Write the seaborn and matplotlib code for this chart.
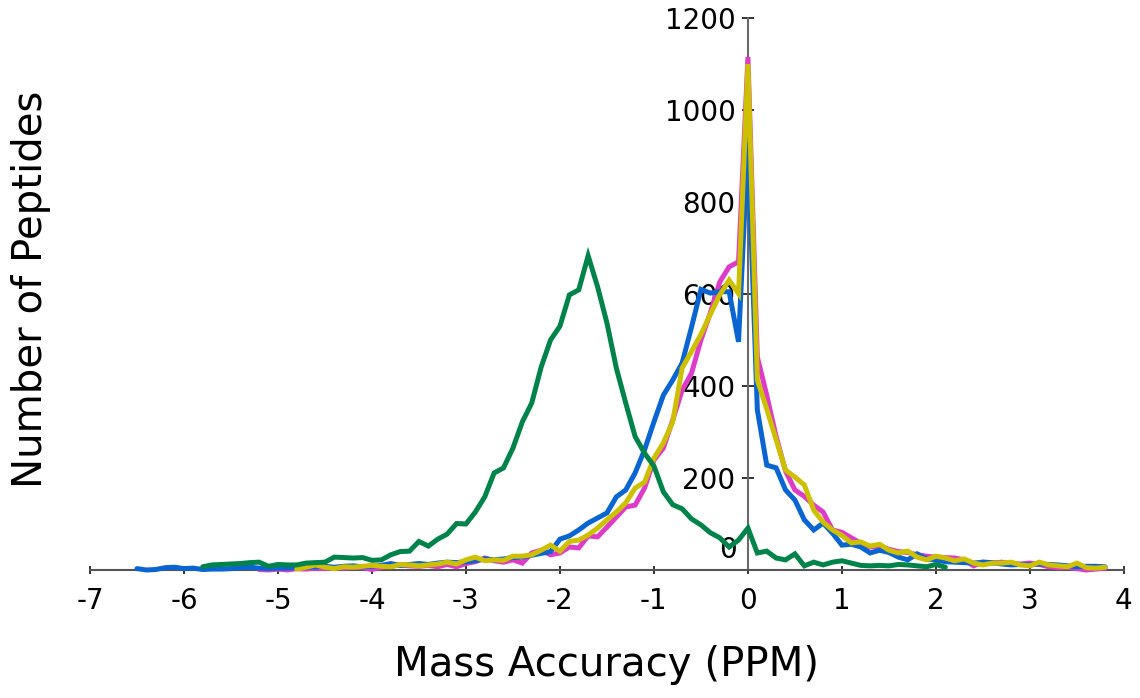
import numpy as np
import pandas as pd
import seaborn as sns
import matplotlib.pyplot as plt

# peptide counts per 0.1 PPM bin, one list per run; *_start is the first bin
green_start = -5.8
green_counts = [
    7, 11, 12, 13, 14, 16, 17, 8, 12, 11,
    11, 15, 16, 17, 28, 27, 26, 27, 21, 22,
    33, 40, 41, 62, 52, 67, 78, 101, 100, 126,
    159, 211, 222, 265, 322, 363, 441, 500, 530, 598,
    609, 683, 616, 537, 439, 363, 290, 254, 226, 170,
    142, 133, 111, 98, 81, 70, 50, 65, 91, 37,
    41, 26, 22, 35, 9, 17, 11, 17, 20, 15,
    10, 9, 10, 9, 12, 11, 9, 7, 12, 6,
]

blue_start = -6.5
blue_counts = [
    3, 0, 1, 5, 6, 3, 4, 1, 2, 2,
    3, 5, 6, 4, 3, 4, 4, 5, 6, 7,
    8, 6, 8, 9, 7, 8, 10, 14, 10, 12,
    14, 12, 15, 17, 16, 18, 20, 24, 22, 24,
    27, 28, 32, 36, 40, 67, 74, 87, 102, 113,
    124, 159, 174, 211, 261, 322, 380, 413, 450, 528,
    610, 602, 605, 605, 496, 930, 348, 228, 222, 174,
    152, 109, 87, 102, 80, 54, 56, 50, 37, 43,
    38, 28, 22, 35, 24, 22, 18, 17, 16, 15,
    17, 16, 13, 11, 12, 11, 13, 12, 11, 9,
    7, 8, 8, 7,
]

magenta_start = -5.2
magenta_counts = [
    1, 0, 2, 0, 3, 2, 4, 3, 5, 4,
    6, 5, 1, 6, 8, 11, 9, 8, 10, 7,
    12, 7, 14, 18, 26, 20, 17, 22, 15, 37,
    43, 33, 37, 50, 48, 74, 72, 93, 115, 137,
    141, 178, 239, 265, 326, 391, 428, 500, 559, 626,
    659, 670, 1115, 463, 380, 290, 215, 174, 160, 141,
    126, 87, 82, 70, 58, 50, 52, 45, 40, 38,
    33, 30, 28, 27, 26, 22, 9, 17, 15, 17,
    14, 13, 15, 12, 7, 5, 6, 3, 0, 2,
    4,
]

yellow_start = -4.8
yellow_counts = [
    2, 6, 11, 6, 3, 7, 6, 8, 10, 8,
    7, 12, 11, 9, 11, 13, 17, 13, 22, 28,
    20, 22, 21, 30, 30, 33, 43, 54, 41, 62,
    65, 76, 91, 109, 126, 146, 178, 191, 243, 276,
    322, 439, 475, 512, 556, 598, 630, 601, 1100, 413,
    350, 283, 217, 202, 185, 130, 104, 87, 75, 59,
    61, 52, 56, 43, 37, 41, 28, 22, 30, 26,
    20, 24, 15, 11, 15, 15, 17, 11, 9, 17,
    11, 9, 7, 15, 5, 4, 6,
]

x_ticks = [-7, -6, -5, -4, -3, -2, -1, 0, 1, 2, 3, 4]
y_ticks = [0, 200, 400, 600, 800, 1000, 1200]

# draw order: first drawn ends up underneath
runs = [
    ("magenta", magenta_start, magenta_counts, "#DC3CC8"),
    ("blue", blue_start, blue_counts, "#0A64D2"),
    ("yellow", yellow_start, yellow_counts, "#CDC000"),
    ("green", green_start, green_counts, "#00834A"),
]

frames = []
for name, start, counts, _ in runs:
    ppm = np.round(start + 0.1 * np.arange(len(counts)), 1)
    frames.append(pd.DataFrame({"ppm": ppm, "count": counts, "run": name}))
df = pd.concat(frames, ignore_index=True)
palette = {name: col for name, _, _, col in runs}

sns.set_style("white")
plt.rcParams["font.family"] = ["DejaVu Sans"]
plt.rcParams["axes.unicode_minus"] = False
plt.rcParams["text.color"] = "black"
plt.rcParams["axes.labelcolor"] = "black"
plt.rcParams["xtick.color"] = "black"
plt.rcParams["ytick.color"] = "black"

fig = plt.figure(figsize=(11.4, 6.98), dpi=100)
ax = fig.add_axes([0.0789, 0.1834, 0.9070, 0.7908])

sns.lineplot(
    data=df, x="ppm", y="count", hue="run",
    hue_order=[r[0] for r in runs], palette=palette,
    estimator=None, errorbar=None, linewidth=3.6,
    legend=False, ax=ax,
)
for ln in ax.lines:
    ln.set_zorder(3)
    ln.set_clip_on(False)
    ln.set_solid_joinstyle("miter")

ax.set_xlim(-7, 4)
ax.set_ylim(0, 1200)

ax.spines["top"].set_visible(False)
ax.spines["right"].set_visible(False)
ax.spines["left"].set_position(("data", 0))
ax.spines["left"].set_color("#6a6a6a")
ax.spines["left"].set_linewidth(1.5)
ax.spines["bottom"].set_color("#555555")
ax.spines["bottom"].set_linewidth(1.5)

ax.set_xticks(x_ticks)
ax.set_xticklabels([str(v) for v in x_ticks])
ax.set_yticks(y_ticks)
ax.set_yticklabels(["" if v == 0 else str(v) for v in y_ticks])
ax.tick_params(axis="x", bottom=True, direction="inout", length=6, width=1.3,
               color="#222222", labelcolor="black", labelsize=20, pad=9)
ax.tick_params(axis="y", left=True, direction="inout", length=8, width=1.3,
               color="#222222", labelcolor="black", labelsize=20, pad=5)
for lbl in ax.get_yticklabels():
    lbl.set_verticalalignment("center_baseline")

# the zero label sits a little above its tick in the original
ax.annotate("0", xy=(0, 0), xycoords="data", xytext=(-11, 20),
            textcoords="offset pixels", ha="right", va="center",
            fontsize=20, color="black", zorder=1)

ax.set_xlabel("Mass Accuracy (PPM)", fontsize=29, labelpad=22, color="black")
ax.set_ylabel("")
fig.text(0.027, 0.586, "Number of Peptides", rotation=90,
         ha="center", va="center", fontsize=29, color="black")

fig.savefig("out.png", dpi=100)
